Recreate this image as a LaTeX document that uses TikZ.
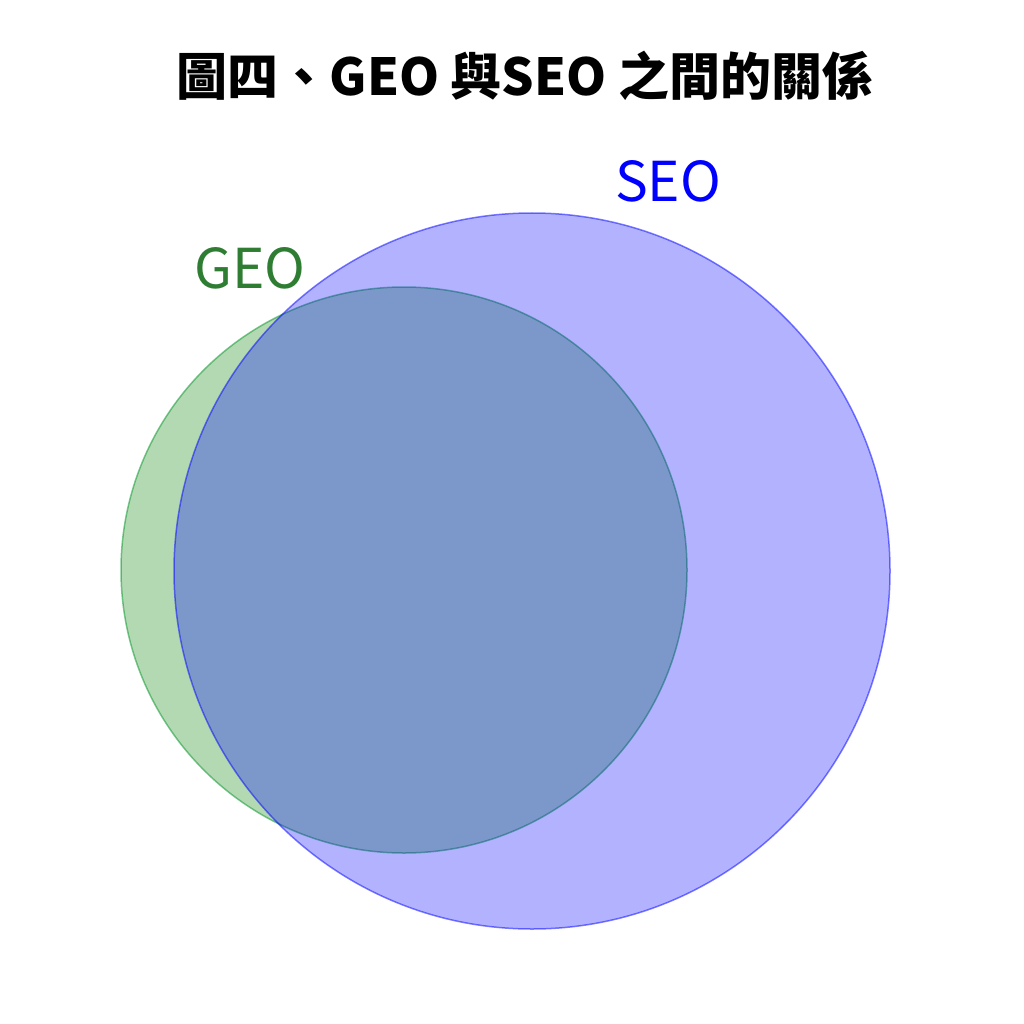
\documentclass[tikz,border=0pt]{standalone}
\usepackage{fontspec}
\newfontfamily\cjk{Noto Sans CJK TC}
\definecolor{geogreen}{RGB}{0,128,0}
\definecolor{geotext}{RGB}{46,125,50}
\definecolor{seoblue}{RGB}{0,0,255}
\begin{document}
\begin{tikzpicture}[x=1pt,y=-1pt,
    set/.style={circle,inner sep=0pt,fill opacity=0.3,draw opacity=0.5,line width=1.5pt},
    setlabel/.style={anchor=base,font=\cjk\fontsize{55}{60}\selectfont}]
  \useasboundingbox (0,0) rectangle (1024,1024);
  % title
  \node [anchor=base,font=\cjk\bfseries\fontsize{51}{56}\selectfont] (title) at (525,96) {圖四、GEO 與SEO 之間的關係};
  % the two sets
  \node [set, fill=geogreen, draw=geogreen!85!cyan, minimum size=566pt] (geo) at (404,570) {};
  \node [set, fill=seoblue, draw=seoblue, minimum size=716pt] (seo) at (532,571) {};
  \node [setlabel, text=geotext] (geolabel) at (250,288) {GEO};
  \node [setlabel, text=seoblue] (seolabel) at (668,202) {SEO};
\end{tikzpicture}
\end{document}
